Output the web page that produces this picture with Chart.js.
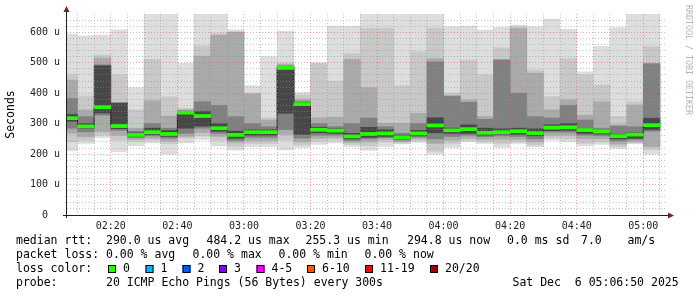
<!DOCTYPE html>
<html>
<head>
<meta charset="utf-8">
<script src="https://cdn.jsdelivr.net/npm/chart.js@4.4.0/dist/chart.umd.min.js"></script>
<style>
  html, body { margin: 0; padding: 0; background: #fff; }
  #wrap { width: 697px; height: 297px; }
</style>
</head>
<body>
<div id="wrap"><canvas id="smoke" width="697" height="297"></canvas></div>
<script>
// Smokeping style latency graph, one column per 5 minute step
const windowStart = '02:06:50';
const windowEnd = '05:06:50';
const slots = ['02:05','02:10','02:15','02:20','02:25','02:30','02:35','02:40','02:45','02:50','02:55',
  '03:00','03:05','03:10','03:15','03:20','03:25','03:30','03:35','03:40','03:45','03:50','03:55',
  '04:00','04:05','04:10','04:15','04:20','04:25','04:30','04:35','04:40','04:45','04:50','04:55','05:00'];
const timeLabels = ['02:20','02:40','03:00','03:20','03:40','04:00','04:20','04:40','05:00'];
const yLabels = [0, 100, 200, 300, 400, 500, 600];

// median rtt (us)
const median = [318,291,354,292,263,272,266,336,325,285,263,272,272,483,364,280,277,258,266,268,255,268,294,278,282,270,272,275,269,287,288,279,274,259,264,295];

// smoke bands (us), outer to inner
const hi1 = [594,588,591,608,418,665,665,498,665,665,608,425,520,603,403,500,620,620,665,665,665,665,665,618,620,607,616,624,618,643,610,470,553,615,665,665];
const hi2 = [460,391,525,460,345,511,388,350,555,597,602,400,317,500,394,498,440,530,613,613,424,536,613,400,509,460,549,618,476,389,514,460,427,323,372,553];
const hi3 = [443,345,515,370,285,375,325,345,522,590,600,398,312,494,380,318,321,511,418,301,301,334,514,392,378,323,511,612,466,345,378,328,372,296,361,498];
const hi4 = [383,323,493,368,275,300,285,342,372,360,323,300,290,490,372,300,290,300,318,290,268,300,503,390,370,314,509,400,323,318,360,312,285,292,290,496];
const hi5 = [330,300,490,367,270,285,277,340,340,300,275,280,280,487,369,288,283,268,288,280,262,278,320,285,296,285,283,285,283,296,300,284,278,265,270,318];
const lo5 = [308,285,335,283,258,265,258,285,292,275,252,262,262,334,265,270,268,250,255,258,250,260,270,268,268,262,266,265,260,277,278,268,266,250,252,280];
const lo4 = [285,273,328,278,254,260,252,268,285,268,245,255,255,280,252,262,262,245,250,254,246,256,250,258,262,257,260,258,250,272,272,262,260,243,248,275];
const lo3 = [268,257,273,262,248,252,243,258,270,258,238,245,245,265,240,252,254,238,240,248,241,250,235,246,252,248,248,248,240,262,262,250,250,233,240,224];
const lo2 = [241,245,262,246,241,246,235,252,260,245,225,235,235,246,230,242,246,232,228,240,237,244,210,235,245,240,235,240,230,252,250,236,240,225,236,215];
const lo1 = [211,235,255,208,228,237,200,237,248,227,213,224,224,214,222,232,237,225,212,225,233,238,200,222,241,235,222,235,224,246,241,227,232,219,235,200];

const lossLabels = ['0', '1', '2', '3', '4-5', '6-10', '11-19', '20/20'];
const lossColors = ['#26ff00', '#00b8ff', '#0059ff', '#7e00ff', '#ff00ff', '#ff5500', '#ff0000', '#a10000'];

const STEP = 5;
const MONO = '"DejaVu Sans Mono", monospace';
const MINOR = 'rgba(143,143,143,0.55)';
const MAJOR = 'rgba(222,79,79,0.5)';

const toMin = s => { const p = s.split(':').map(Number); return p[0] * 60 + p[1] + (p[2] || 0) / 60; };
const fmt = m => String(Math.floor(m / 60)).padStart(2, '0') + ':' + String(m % 60).padStart(2, '0');

const tMin = toMin(windowStart);
const tMax = toMin(windowEnd);
const starts = slots.map(toMin);
const centers = starts.map(t => t + STEP / 2);
const majorX = timeLabels.map(toMin);

function band(lo, hi) {
    return centers.map((x, i) => ({ x: x, y: [lo[i], hi[i]] }));
}

const bands = [
    { lo: lo1, hi: hi1, color: '#dddddd' },
    { lo: lo2, hi: hi2, color: '#c8c8c8' },
    { lo: lo3, hi: hi3, color: '#aaaaaa' },
    { lo: lo4, hi: hi4, color: '#808080' },
    { lo: lo5, hi: hi5, color: '#474747' }
];

const datasets = bands.map((b, k) => ({
    type: 'bar',
    data: band(b.lo, b.hi),
    backgroundColor: b.color,
    borderWidth: 0,
    barPercentage: 1,
    categoryPercentage: 1,
    grouped: false,
    order: 10 - k,
    clip: 0
}));

// thin dark median step line (horizontal over each column, vertical at the boundary)
const medLine = starts.map((x, i) => ({ x: x, y: median[i] }));
medLine.push({ x: starts[starts.length - 1] + STEP, y: median[median.length - 1] });
datasets.push({
    type: 'line',
    data: medLine,
    stepped: 'before',
    fill: false,
    backgroundColor: 'rgba(0,0,0,0)',
    borderColor: '#202020',
    borderWidth: 1,
    pointRadius: 0,
    order: 2,
    clip: 0
});

// loss-coloured median marker
const MED_HALF = 5;
datasets.push({
    type: 'bar',
    data: centers.map((x, i) => ({ x: x, y: [median[i] - MED_HALF, median[i] + MED_HALF] })),
    backgroundColor: lossColors[0],
    borderWidth: 0,
    barPercentage: 1,
    categoryPercentage: 1,
    grouped: false,
    order: 1,
    clip: 0
});

const overlay = {
    id: 'overlay',
    afterDraw(chart) {
        const ctx = chart.ctx;
        const a = chart.chartArea;
        ctx.save();

        // axes
        ctx.strokeStyle = '#1f1f1f';
        ctx.lineWidth = 1;
        ctx.beginPath();
        ctx.moveTo(a.left - 0.5, a.bottom + 3);
        ctx.lineTo(a.left - 0.5, a.top - 4);
        ctx.moveTo(a.left - 4, a.bottom + 0.5);
        ctx.lineTo(a.right + 4, a.bottom + 0.5);
        ctx.stroke();

        // arrows
        ctx.fillStyle = '#801f1f';
        ctx.beginPath();
        ctx.moveTo(a.left - 0.5, a.top - 8);
        ctx.lineTo(a.left - 3.5, a.top - 2);
        ctx.lineTo(a.left + 2.5, a.top - 2);
        ctx.closePath();
        ctx.fill();
        ctx.beginPath();
        ctx.moveTo(a.right + 8, a.bottom + 0.5);
        ctx.lineTo(a.right + 2, a.bottom - 2.5);
        ctx.lineTo(a.right + 2, a.bottom + 3.5);
        ctx.closePath();
        ctx.fill();

        // watermark
        ctx.save();
        ctx.translate(688, 5);
        ctx.rotate(Math.PI / 2);
        ctx.font = '8.3px ' + MONO;
        ctx.fillStyle = '#b4b4b4';
        ctx.textBaseline = 'middle';
        ctx.textAlign = 'left';
        ctx.fillText('RRDTOOL / TOBI OETIKER', 0, 0);
        ctx.restore();

        // legend block
        ctx.font = '11.5px ' + MONO;
        ctx.fillStyle = '#000';
        ctx.textBaseline = 'middle';
        ctx.textAlign = 'left';
        const rows = [
            [241, [[16, 'median rtt:'], [106, '290.0 us avg'], [206.5, '484.2 us max'], [305.5, '255.3 us min'],
                   [407, '294.8 us now'], [507, '0.0 ms sd'], [581, '7.0'], [627.5, 'am/s']]],
            [255, [[16, 'packet loss:'], [106, '0.00 % avg'], [192.5, '0.00 % max'], [278.5, '0.00 % min'],
                   [364.5, '0.00 % now']]],
            [269, [[16, 'loss color:']]],
            [283, [[16, 'probe:'], [106, '20 ICMP Echo Pings (56 Bytes) every 300s'], [512.5, 'Sat Dec  6 05:06:50 2025']]]
        ];
        rows.forEach(([y, items]) => items.forEach(([x, t]) => ctx.fillText(t, x, y)));

        const boxX = [108, 145.5, 182.5, 219, 256.5, 307, 365, 430];
        lossLabels.forEach((lab, i) => {
            ctx.fillStyle = lossColors[i];
            ctx.fillRect(boxX[i], 265, 8, 8);
            ctx.strokeStyle = '#000';
            ctx.strokeRect(boxX[i] + 0.5, 265.5, 7, 7);
            ctx.fillStyle = '#000';
            ctx.fillText(lab, boxX[i] + 15, 269);
        });
        ctx.restore();
    }
};

new Chart(document.getElementById('smoke'), {
    type: 'bar',
    data: { datasets: datasets },
    options: {
        responsive: false,
        animation: false,
        devicePixelRatio: 1,
        layout: { padding: { top: 14, right: 31, left: 0, bottom: 0 } },
        plugins: { legend: { display: false }, tooltip: { enabled: false } },
        scales: {
            x: {
                type: 'linear',
                min: tMin,
                max: tMax,
                offset: false,
                afterFit: s => { s.height = 82; },
                afterBuildTicks: s => {
                    const ticks = [];
                    for (let t = Math.ceil(tMin / STEP) * STEP; t < tMax; t += STEP) ticks.push({ value: t });
                    s.ticks = ticks;
                },
                grid: {
                    z: 1,
                    drawTicks: false,
                    offset: false,
                    lineWidth: 1,
                    color: c => majorX.includes(c.tick.value) ? MAJOR : MINOR
                },
                border: { display: false, dash: [1, 2] },
                ticks: {
                    autoSkip: false,
                    maxRotation: 0,
                    padding: 5,
                    color: '#222',
                    font: { family: MONO, size: 10 },
                    callback: v => majorX.includes(v) ? fmt(v) : ''
                }
            },
            y: {
                min: 0,
                max: 660,
                afterFit: s => { s.width = 67; },
                afterBuildTicks: s => {
                    const ticks = [];
                    for (let v = 0; v < 660; v += 20) ticks.push({ value: v });
                    s.ticks = ticks;
                },
                grid: {
                    z: 1,
                    drawTicks: false,
                    lineWidth: 1,
                    color: c => c.tick.value === 0 ? 'rgba(0,0,0,0)' : (yLabels.includes(c.tick.value) ? MAJOR : MINOR)
                },
                border: { display: false, dash: [1, 2] },
                ticks: {
                    autoSkip: false,
                    padding: 7,
                    color: '#222',
                    font: { family: MONO, size: 10 },
                    callback: v => yLabels.includes(v) ? (v === 0 ? '0  ' : v + ' u') : ''
                },
                title: {
                    display: true,
                    text: 'Seconds',
                    color: '#000',
                    font: { family: MONO, size: 11.5 },
                    padding: { top: 4, bottom: 0 }
                }
            }
        }
    },
    plugins: [overlay]
});
</script>
</body>
</html>
